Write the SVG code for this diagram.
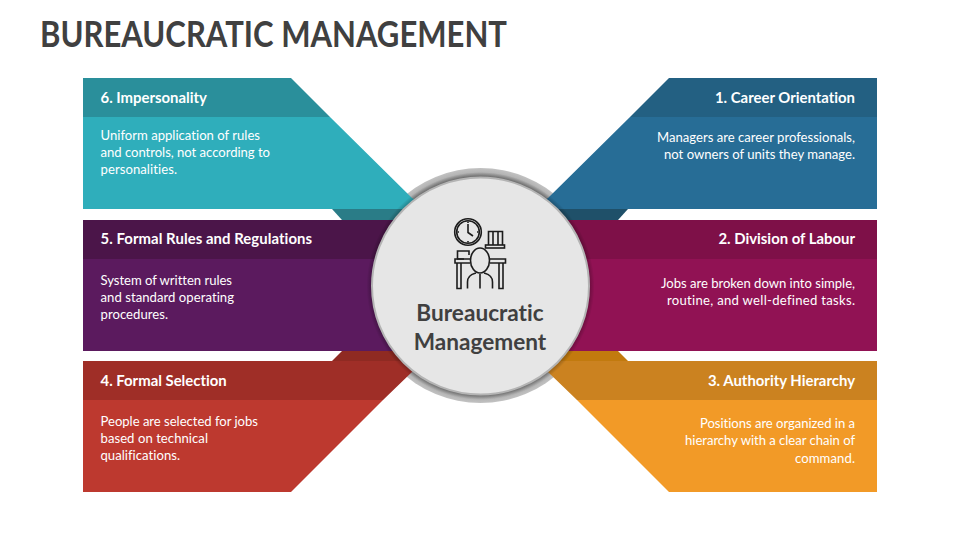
<svg xmlns="http://www.w3.org/2000/svg" width="960" height="540" viewBox="0 0 960 540">
<style>
text{font-family:Lato,"Liberation Sans",sans-serif;font-variant-ligatures:none}
.t{font-size:36px;font-weight:700;fill:#404040}
.h{font-size:14.9px;font-weight:700;fill:#fff}
.b{font-size:13.1px;fill:#fff}
.r{text-anchor:end}
.c{font-size:22.6px;font-weight:700;fill:#404040;text-anchor:middle}
.i{fill:none;stroke:#1c1c1c;stroke-width:1.6}
</style>
<defs>
<radialGradient id="ring" gradientUnits="userSpaceOnUse" cx="480.5" cy="285.5" r="118">
<stop offset="0.92" stop-color="#8c8c8c"/>
<stop offset="0.96" stop-color="#b4b4b4"/>
<stop offset="1" stop-color="#c4c4c4"/>
</radialGradient>
<radialGradient id="shade" gradientUnits="userSpaceOnUse" cx="480.500" cy="286" r="114">
<stop offset="0.93" stop-color="#000" stop-opacity=".4"/>
<stop offset="1" stop-color="#000" stop-opacity="0"/>
</radialGradient>
</defs>
<text class="t" x="40" y="46.500" textLength="467" lengthAdjust="spacingAndGlyphs">BUREAUCRATIC MANAGEMENT</text>
<circle id="ring-back" cx="480.500" cy="285.500" r="117.500" fill="url(#ring)"/>
<g id="panel-1">
<path fill="#1f5069" d="M540 209H628L618 220H540Z"/>
<path fill="#276d96" d="M877 117V209H530L548 198L630 117Z"/>
<path fill="#236082" d="M669 78H877V117H630Z"/>
<text class="h r" x="855" y="103">1. Career Orientation</text>
<text class="b r" x="855" y="142" textLength="198">Managers are career professionals,</text>
<text class="b r" x="855" y="159" textLength="191">not owners of units they manage.</text>
</g>
<g id="panel-2">
<path fill="#911254" d="M440 259H877V351H440Z"/>
<path fill="#7e1048" d="M440 220H877V259H440Z"/>
<text class="h r" x="855" y="244">2. Division of Labour</text>
<text class="b r" x="855" y="288" textLength="194">Jobs are broken down into simple,</text>
<text class="b r" x="855" y="305" textLength="188">routine, and well-defined tasks.</text>
</g>
<g id="panel-3">
<path fill="#c27a0e" d="M540 351H618L628 361H540Z"/>
<path fill="#f29a27" d="M877 400V492H669L577 400Z"/>
<path fill="#cb8220" d="M530 361H877V400H577L548 372Z"/>
<text class="h r" x="855" y="386">3. Authority Hierarchy</text>
<text class="b r" x="855" y="428" textLength="155">Positions are organized in a</text>
<text class="b r" x="855" y="445" textLength="170">hierarchy with a clear chain of</text>
<text class="b r" x="855" y="463" textLength="60">command.</text>
</g>
<g id="panel-4">
<path fill="#8f2a22" d="M420 351H342L332 361H420Z"/>
<path fill="#bd392f" d="M83 400V492H291L383 400Z"/>
<path fill="#9f2e27" d="M430 361H83V400H383L412 372Z"/>
<text class="h" x="100.500" y="386">4. Formal Selection</text>
<text class="b" x="100.500" y="426" textLength="157.500">People are selected for jobs</text>
<text class="b" x="100.500" y="443" textLength="107.500">based on technical</text>
<text class="b" x="100.500" y="460" textLength="79.500">qualifications.</text>
</g>
<g id="panel-5">
<path fill="#5b1a5e" d="M520 259H83V351H520Z"/>
<path fill="#4b1549" d="M520 220H83V259H520Z"/>
<text class="h" x="100.500" y="244" textLength="211.500">5. Formal Rules and Regulations</text>
<text class="b" x="100.500" y="285" textLength="131.500">System of written rules</text>
<text class="b" x="100.500" y="302" textLength="133.500">and standard operating</text>
<text class="b" x="100.500" y="319" textLength="67.500">procedures.</text>
</g>
<g id="panel-6">
<path fill="#2a7c87" d="M420 209H332L342 220H420Z"/>
<path fill="#2faebb" d="M83 117V209H430L412 198L330 117Z"/>
<path fill="#2a8f9b" d="M291 78H83V117H330Z"/>
<text class="h" x="100.500" y="103">6. Impersonality</text>
<text class="b" x="100.500" y="140" textLength="159.500">Uniform application of rules</text>
<text class="b" x="100.500" y="157" textLength="169.500">and controls, not according to</text>
<text class="b" x="100.500" y="174" textLength="76.500">personalities.</text>
</g>
<g id="hub">
<circle cx="480.500" cy="286" r="114" fill="url(#shade)"/>
<circle cx="480.500" cy="286" r="108.500" fill="#e6e6e6" stroke="#b4b4b4" stroke-width="2"/>
<g class="i">
<circle cx="468" cy="232" r="13.300"/>
<circle cx="468" cy="232" r="11.300"/>
<path d="M468 224V232.500L473 236M468 221.500V223M468 241V242.500M457.500 232H459M477 232H478.500"/>
<path d="M488.500 245V231.500H502.500V245M493 231.500V245M498 231.500V245"/>
<rect x="485.500" y="245" width="19" height="3"/>
<path d="M464 259H457.500V251H469V255"/>
<path d="M470 259H455V263H470M490 259H505.500V263H490"/>
<path d="M457 263V288.500H461V263M499 263V288.500H503V263"/>
<ellipse cx="480" cy="260.500" rx="9.500" ry="12.500"/>
<path d="M467.500 288.500V282C467.500 275 473 274 476 273M492.500 288.500V282C492.500 275 487 274 484 273M480 274V288.500"/>
</g>
<text class="c" x="480" y="321">Bureaucratic</text>
<text class="c" x="480" y="350">Management</text>
</g>
</svg>
